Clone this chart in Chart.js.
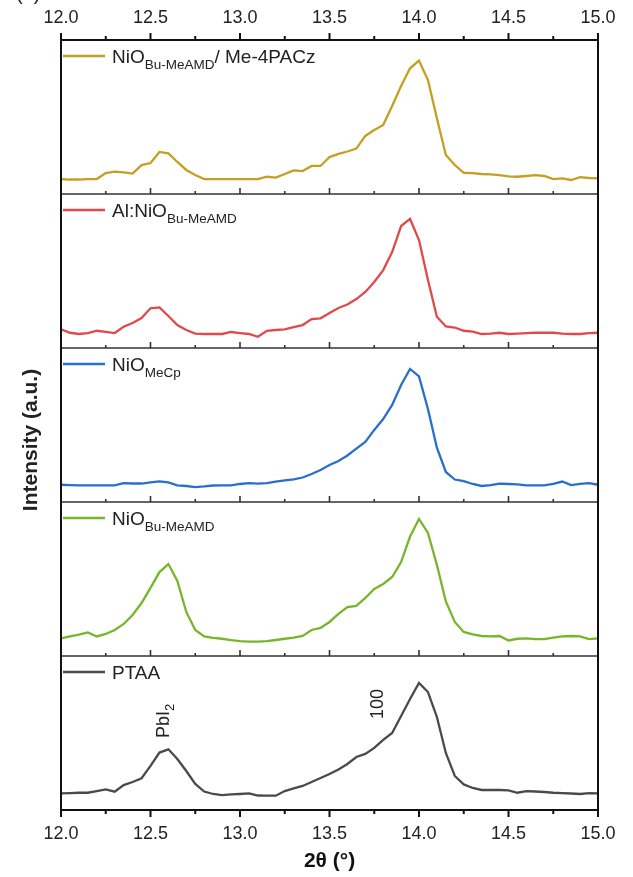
<!DOCTYPE html>
<html>
<head>
<meta charset="utf-8">
<script src="https://cdn.jsdelivr.net/npm/chart.js@4/dist/chart.umd.min.js"></script>
<style>
  html, body { margin: 0; padding: 0; background: #fff; }
  #wrap { width: 633px; height: 877px; }
</style>
</head>
<body>
<div id="wrap"><canvas id="xrdChart"></canvas></div>
<script>
// 2-theta positions (deg)
const theta = [
  12.00, 12.05, 12.10, 12.15, 12.20, 12.25, 12.30, 12.35, 12.40, 12.45,
  12.50, 12.55, 12.60, 12.65, 12.70, 12.75, 12.80, 12.85, 12.90, 12.95,
  13.00, 13.05, 13.10, 13.15, 13.20, 13.25, 13.30, 13.35, 13.40, 13.45,
  13.50, 13.55, 13.60, 13.65, 13.70, 13.75, 13.80, 13.85, 13.90, 13.95,
  14.00, 14.05, 14.10, 14.15, 14.20, 14.25, 14.30, 14.35, 14.40, 14.45,
  14.50, 14.55, 14.60, 14.65, 14.70, 14.75, 14.80, 14.85, 14.90, 14.95,
  15.00
];

// intensities (a.u.), one trace per panel, top to bottom
const meAmdMe4pacz = [
  9.7, 9.4, 9.4, 9.7, 9.7, 13.6, 14.5, 14.0, 13.3, 18.8,
  20.1, 27.3, 26.4, 20.8, 15.6, 12.3, 9.7, 9.7, 9.7, 9.7,
  9.7, 9.7, 9.7, 11.2, 10.6, 13.0, 15.3, 14.9, 18.2, 18.2,
  24.0, 26.0, 27.6, 29.5, 37.7, 41.6, 44.8, 57.1, 70.1, 81.6,
  86.6, 74.0, 49.2, 25.3, 18.8, 13.8, 13.6, 13.0, 12.7, 12.3,
  11.4, 11.2, 11.7, 12.3, 11.7, 9.7, 10.1, 9.1, 11.0, 10.4,
  10.2
];
const alNiO = [
  12.1, 9.9, 9.1, 9.7, 11.2, 10.4, 9.7, 13.8, 16.2, 19.5,
  25.8, 26.4, 20.8, 14.9, 11.7, 9.4, 9.1, 9.1, 9.1, 10.4,
  9.7, 9.1, 7.3, 11.2, 11.7, 12.1, 13.6, 14.9, 18.8, 19.3,
  22.7, 26.0, 28.2, 31.8, 36.4, 42.9, 50.6, 62.3, 79.2, 83.8,
  70.1, 44.2, 20.3, 14.0, 13.3, 11.2, 10.7, 9.1, 9.4, 9.9,
  9.1, 9.4, 9.7, 9.9, 9.9, 9.9, 9.4, 9.1, 9.1, 9.7,
  9.9
];
const nioMeCp = [
  11.2, 11.0, 10.8, 10.8, 10.8, 10.8, 10.8, 12.3, 12.0, 12.0,
  12.7, 13.4, 12.7, 10.8, 10.4, 9.7, 10.1, 10.7, 10.8, 10.8,
  11.7, 12.3, 11.9, 12.3, 13.3, 14.0, 14.7, 15.9, 18.2, 20.8,
  24.0, 26.6, 30.2, 34.7, 39.0, 46.8, 53.9, 63.0, 76.0, 86.4,
  81.5, 60.4, 35.3, 19.5, 14.6, 13.6, 11.7, 10.4, 11.0, 11.9,
  11.7, 11.4, 10.8, 10.8, 10.8, 11.7, 13.3, 11.0, 11.7, 12.3,
  11.2
];
const nioMeAmd = [
  11.4, 12.7, 13.9, 15.3, 12.7, 14.3, 16.9, 20.8, 26.6, 34.4,
  44.2, 54.5, 59.7, 48.7, 28.6, 16.9, 12.7, 11.7, 11.2, 10.3,
  9.7, 9.3, 9.3, 9.7, 10.4, 11.2, 12.0, 13.0, 16.9, 18.2,
  22.1, 27.3, 31.8, 32.6, 37.7, 43.5, 46.8, 51.3, 61.0, 77.6,
  89.0, 79.9, 59.1, 35.4, 22.1, 15.6, 14.0, 13.0, 12.8, 13.0,
  10.1, 11.2, 11.5, 11.0, 11.0, 12.0, 12.7, 13.0, 12.8, 11.0,
  11.4
];
const ptaa = [
  10.8, 11.0, 11.2, 11.2, 12.3, 13.4, 11.9, 16.2, 18.2, 20.6,
  28.6, 37.3, 39.4, 33.1, 25.3, 16.9, 12.0, 10.4, 9.7, 10.1,
  10.4, 10.8, 9.4, 9.3, 9.3, 12.3, 14.0, 15.6, 18.2, 20.8,
  23.4, 26.3, 29.9, 34.4, 36.4, 40.3, 45.5, 50.0, 61.0, 72.1,
  82.5, 76.6, 60.4, 37.0, 22.1, 16.6, 14.3, 13.0, 13.0, 13.0,
  12.7, 11.2, 12.3, 12.0, 11.7, 11.2, 11.0, 10.7, 10.4, 11.0,
  10.8
];

// legend text split into [text, isSubscript] runs
const seriesNames = [
  [['NiO', false], ['Bu-MeAMD', true], ['/ Me-4PACz', false]],
  [['Al:NiO', false], ['Bu-MeAMD', true]],
  [['NiO', false], ['MeCp', true]],
  [['NiO', false], ['Bu-MeAMD', true]],
  [['PTAA', false]]
];
const seriesColors = ['#c59f22', '#e04a4a', '#2a6fcb', '#77b52a', '#4a4a4a'];
const seriesData = [meAmdMe4pacz, alNiO, nioMeCp, nioMeAmd, ptaa];

const xTicks = [12.0, 12.5, 13.0, 13.5, 14.0, 14.5, 15.0];
const xMinorTicks = [12.25, 12.75, 13.25, 13.75, 14.25, 14.75];

const FONT = '"Liberation Sans", Arial, sans-serif';

function drawRuns(ctx, runs, x, y, size, subSize, drop) {
  let cx = x;
  runs.forEach(([txt, sub]) => {
    ctx.font = (sub ? subSize : size) + 'px ' + FONT;
    ctx.fillText(txt, cx, sub ? y + drop : y);
    cx += ctx.measureText(txt).width;
  });
}

// frame, stacked panel borders, ticks and in-panel labels
const panelDecor = {
  id: 'panelDecor',
  afterDraw(chart) {
    const ctx = chart.ctx;
    const area = chart.chartArea;
    const xs = chart.scales.x;
    const panels = seriesData.map((_, i) => chart.scales['y' + i]);

    ctx.save();
    ctx.fillStyle = '#222';
    ctx.textAlign = 'left';
    ctx.textBaseline = 'alphabetic';

    // separators with inward ticks
    panels.forEach((p, i) => {
      if (i === panels.length - 1) return;
      ctx.strokeStyle = '#333';
      ctx.lineWidth = 1.4;
      ctx.beginPath();
      ctx.moveTo(area.left, p.bottom);
      ctx.lineTo(area.right, p.bottom);
      ctx.stroke();
      ctx.lineWidth = 1.6;
      ctx.beginPath();
      xTicks.forEach(v => {
        const px = xs.getPixelForValue(v);
        ctx.moveTo(px, p.bottom);
        ctx.lineTo(px, p.bottom - 6);
      });
      xMinorTicks.forEach(v => {
        const px = xs.getPixelForValue(v);
        ctx.moveTo(px, p.bottom);
        ctx.lineTo(px, p.bottom - 3);
      });
      ctx.stroke();
    });

    // outer box and outward ticks
    ctx.strokeStyle = '#111';
    ctx.lineWidth = 2;
    ctx.strokeRect(area.left, area.top, area.right - area.left, area.bottom - area.top);
    ctx.beginPath();
    xTicks.forEach(v => {
      const px = xs.getPixelForValue(v);
      ctx.moveTo(px, area.top); ctx.lineTo(px, area.top - 7);
      ctx.moveTo(px, area.bottom); ctx.lineTo(px, area.bottom + 7);
    });
    xMinorTicks.forEach(v => {
      const px = xs.getPixelForValue(v);
      ctx.moveTo(px, area.top); ctx.lineTo(px, area.top - 4);
      ctx.moveTo(px, area.bottom); ctx.lineTo(px, area.bottom + 4);
    });
    ctx.stroke();

    // legend entry in each panel
    panels.forEach((p, i) => {
      ctx.strokeStyle = seriesColors[i];
      ctx.lineWidth = 2.4;
      ctx.beginPath();
      ctx.moveTo(area.left + 2, p.top + 16);
      ctx.lineTo(area.left + 44, p.top + 16);
      ctx.stroke();
      ctx.fillStyle = '#222';
      drawRuns(ctx, seriesNames[i], area.left + 51, p.top + 23, 19, 13.5, 5.5);
    });

    // peak labels in the bottom panel
    ctx.save();
    ctx.translate(xs.getPixelForValue(12.6) + 1, 738);
    ctx.rotate(-Math.PI / 2);
    drawRuns(ctx, [['PbI', false], ['2', true]], 0, 0, 18, 13, 5);
    ctx.restore();
    ctx.save();
    ctx.translate(xs.getPixelForValue(13.8), 719);
    ctx.rotate(-Math.PI / 2);
    ctx.font = '18px ' + FONT;
    ctx.fillText('100', 0, 0);
    ctx.restore();

    // y axis title
    ctx.save();
    ctx.translate(37, 440);
    ctx.rotate(-Math.PI / 2);
    ctx.textAlign = 'center';
    ctx.font = 'bold 21px ' + FONT;
    ctx.fillText('Intensity (a.u.)', 0, 0);
    ctx.restore();

    // panel letter, cut at the top edge
    ctx.font = '20px ' + FONT;
    ctx.fillText('(a)', 16, 0);
    ctx.restore();
  }
};

const scales = {
  x: {
    type: 'linear', position: 'bottom', min: 12, max: 15,
    afterFit: s => { s.height = 67; },
    grid: { display: false }, border: { display: false },
    ticks: {
      stepSize: 0.5, padding: 5, maxRotation: 0, autoSkip: false, color: '#222',
      font: { size: 18, family: FONT },
      callback: v => Number(v).toFixed(1)
    },
    title: {
      display: true, text: '2θ (°)', color: '#111',
      font: { size: 21, weight: 'bold', family: FONT },
      padding: { top: 0, bottom: 3 }
    }
  },
  xTop: {
    type: 'linear', position: 'top', min: 12, max: 15,
    afterFit: s => { s.height = 40; },
    grid: { display: false }, border: { display: false },
    ticks: {
      stepSize: 0.5, padding: 3, maxRotation: 0, autoSkip: false, color: '#222',
      font: { size: 18, family: FONT },
      callback: v => Number(v).toFixed(1)
    }
  }
};
seriesData.forEach((_, i) => {
  scales['y' + i] = {
    type: 'linear', position: 'left', stack: 'panels', stackWeight: 1,
    weight: seriesData.length - i, min: 0, max: 100,
    afterFit: s => { s.width = 61; },
    ticks: { display: false }, grid: { display: false }, border: { display: false }
  };
});

new Chart(document.getElementById('xrdChart'), {
  type: 'line',
  data: {
    datasets: seriesData.map((vals, i) => ({
      label: seriesNames[i].map(r => r[0]).join(''),
      data: vals.map((v, j) => ({ x: theta[j], y: v })),
      yAxisID: 'y' + i,
      borderColor: seriesColors[i],
      borderWidth: 2.3,
      pointRadius: 0,
      tension: 0
    }))
  },
  options: {
    responsive: true,
    maintainAspectRatio: false,
    animation: false,
    layout: { padding: { left: 0, right: 35, top: 0, bottom: 0 } },
    plugins: { legend: { display: false }, tooltip: { enabled: false } },
    scales: scales
  },
  plugins: [panelDecor]
});
</script>
</body>
</html>
